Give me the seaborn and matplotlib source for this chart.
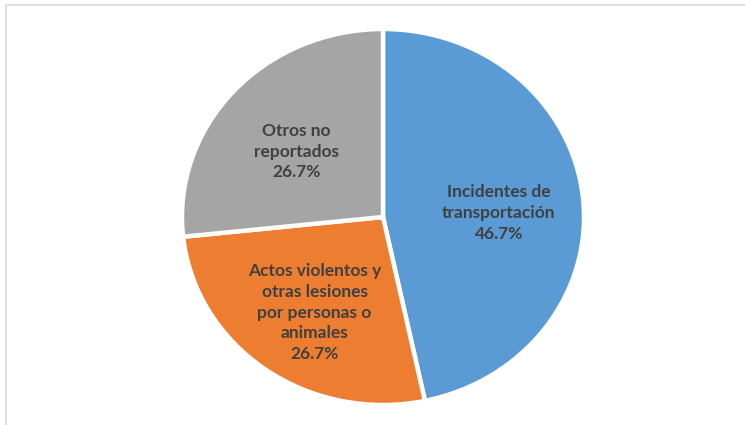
import numpy as np
import seaborn as sns
import matplotlib.pyplot as plt
from matplotlib.lines import Line2D

# Datos del gráfico
categorias = ["Incidentes de\ntransportación",
              "Actos violentos y\notras lesiones\npor personas o\nanimales",
              "Otros no\nreportados"]
porcentajes = [46.7, 26.7, 26.7]
colores = ["#5B9BD5", "#ED7D31", "#A5A5A5"]

sns.set_theme(style="white")
plt.rcParams['font.family'] = ['Lato', 'DejaVu Sans']

fig = plt.figure(figsize=(7.45, 4.25), dpi=100)
ax = fig.add_axes([0, 0, 1, 1])

wedges, _ = ax.pie(porcentajes, colors=sns.color_palette(colores), startangle=90,
                   counterclock=False,
                   wedgeprops=dict(edgecolor="white", linewidth=3.2))

# etiquetas dentro de cada porción
for w, cat, p in zip(wedges, categorias, porcentajes):
    ang = np.deg2rad((w.theta1 + w.theta2) / 2)
    r = 0.58
    ax.text(r * np.cos(ang), r * np.sin(ang) - 0.04, f"{cat}\n{p:.1f}%",
            ha="center", va="center", fontsize=12.5, fontweight="bold",
            color="#404040", linespacing=1.36)

# pie un poco ovalado como en la imagen
ax.set_aspect("auto")
ax.set_xlim(-383 / 201, -383 / 201 + 745 / 201)
ax.set_ylim(-208 / 188, -208 / 188 + 425 / 188)
ax.axis("off")

# marco del gráfico
fig.add_artist(Line2D([6 / 745, 1], [1 - 5 / 425, 1 - 5 / 425], color="#D9D9D9", lw=1.2))
fig.add_artist(Line2D([6 / 745, 6 / 745], [0, 1 - 5 / 425], color="#D9D9D9", lw=1.2))

fig.savefig("out.png", dpi=100, facecolor="white")
